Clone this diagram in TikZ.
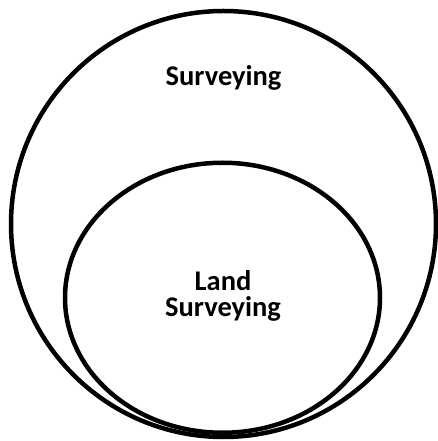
\documentclass[tikz,border=0pt]{standalone}
\usepackage{fontspec}
\setmainfont{Carlito}
\begin{document}
\begin{tikzpicture}[x=1pt,y=1pt,
  ring/.style={draw=black,line width=4.5pt},
  label/.style={font=\fontsize{28.5}{26.5}\selectfont\bfseries,inner sep=0pt,align=center}]
\useasboundingbox (0,0) rectangle (438,441);
% outer set and the subset inside it
\draw[ring] (223.5,217) ellipse [x radius=212.5, y radius=213];
\draw[ring] (222.5,143.25) ellipse [x radius=157.5, y radius=135];
\node[label,anchor=base] (outer) at (223.5,355) {Surveying};
\node[label,anchor=base] (inner) at (223,124) {Land\\Surveying};
\end{tikzpicture}
\end{document}
